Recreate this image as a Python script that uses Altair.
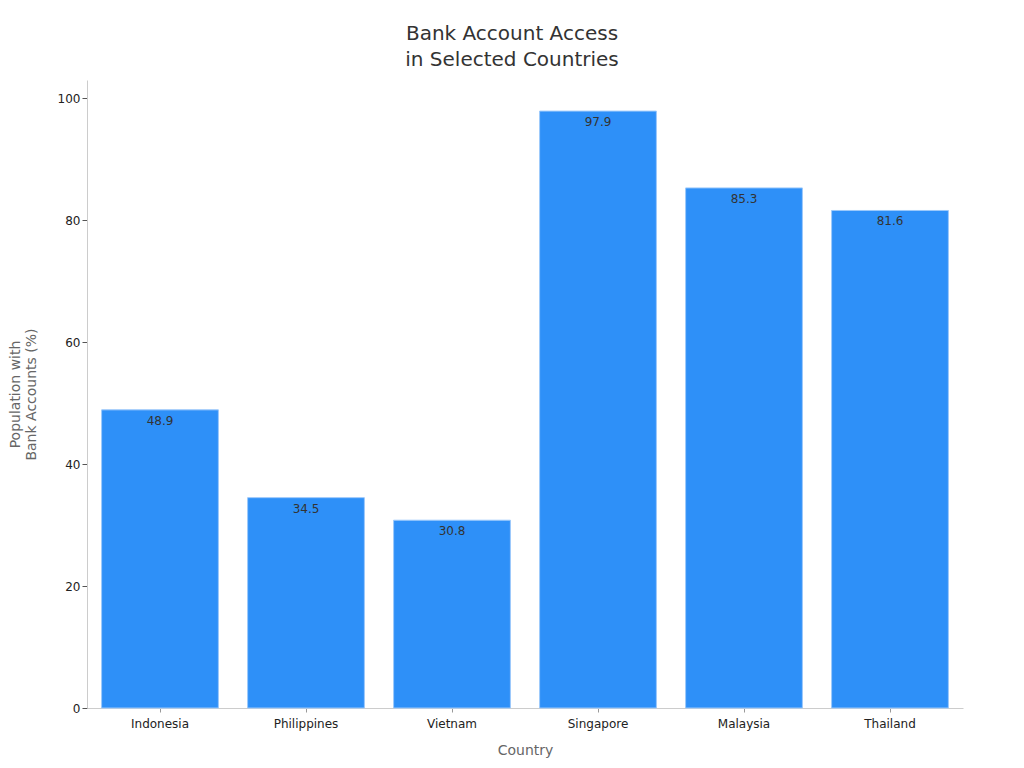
import altair as alt
import pandas as pd

countries = ["Indonesia", "Philippines", "Vietnam", "Singapore", "Malaysia", "Thailand"]
values = [48.9, 34.5, 30.8, 97.9, 85.3, 81.6]

df = pd.DataFrame({"Country": countries, "Value": values})
df["Label"] = df["Value"].map(lambda v: f"{v:.1f}")

FONT = "DejaVu Sans"

base = alt.Chart(df).encode(
    x=alt.X("Country:N", sort=countries,
            scale=alt.Scale(paddingInner=0.2, paddingOuter=0.1),
            axis=alt.Axis(title="Country", labelAngle=0, labelFontSize=12, labelColor="#222222",
                          titleFontSize=14, titleColor="#666666", titleFontWeight="normal",
                          titlePadding=14, labelPadding=6, domainColor="#cccccc",
                          tickColor="#999999", tickSize=4, labelFont=FONT, titleFont=FONT)),
    y=alt.Y("Value:Q", scale=alt.Scale(domain=[0, 103], nice=False),
            axis=alt.Axis(title=["Population with", "Bank Accounts (%)"], values=[0, 20, 40, 60, 80, 100],
                          grid=False, labelFontSize=12, labelColor="#222222",
                          titleFontSize=14, titleColor="#666666", titleFontWeight="normal",
                          titlePadding=19, domainColor="#cccccc", tickColor="#555555", tickSize=5,
                          labelFont=FONT, titleFont=FONT)),
)

bars = base.mark_bar(color="#2e90f8", stroke="#9cc9fb", strokeWidth=1)
text = base.mark_text(baseline="top", dy=6, fontSize=12, color="#333333", font=FONT).encode(text="Label:N")

chart = (bars + text).properties(
    width=876, height=628,
    title=alt.TitleParams(["Bank Account Access", "in Selected Countries"], fontSize=20,
                          font=FONT, fontWeight="normal", color="#333333", anchor="middle", offset=10,
                          lineHeight=26, dx=-13),
    autosize=alt.AutoSizeParams(type="none"),
    padding={"left": 79, "top": 72, "right": 45, "bottom": 52},
).configure(background="white").configure_view(strokeWidth=0, stroke="transparent")

chart.save("out.html", embed_options={"renderer": "svg", "actions": False})
